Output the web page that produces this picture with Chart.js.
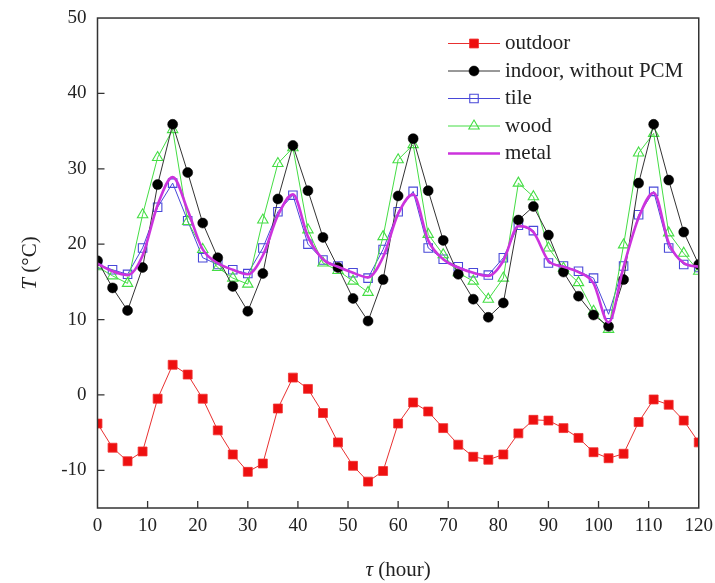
<!DOCTYPE html>
<html><head><meta charset="utf-8">
<script src="https://cdn.jsdelivr.net/npm/chart.js@4.4.0/dist/chart.umd.min.js"></script>
<style>html,body{margin:0;padding:0;background:#fff;}#wrap{width:715px;height:583px;}</style>
</head><body><div id="wrap"><canvas id="c" width="715" height="583"></canvas></div>
<script>
const hours = [0,3,6,9,12,15,18,21,24,27,30,33,36,39,42,45,48,51,54,57,60,63,66,69,72,75,78,81,84,87,90,93,96,99,102,105,108,111,114,117,120];
const outdoor = [-3.8,-7.0,-8.8,-7.5,-0.5,4.0,2.7,-0.5,-4.7,-7.9,-10.2,-9.1,-1.8,2.3,0.8,-2.4,-6.3,-9.4,-11.5,-10.1,-3.8,-1.0,-2.2,-4.4,-6.6,-8.2,-8.6,-7.9,-5.1,-3.3,-3.4,-4.4,-5.7,-7.6,-8.4,-7.8,-3.6,-0.6,-1.3,-3.4,-6.3];
const indoor = [17.8,14.2,11.2,16.9,27.9,35.9,29.5,22.8,18.2,14.4,11.1,16.1,26.0,33.1,27.1,20.9,16.9,12.8,9.8,15.3,26.4,34.0,27.1,20.5,16.0,12.7,10.3,12.2,23.2,25.0,21.2,16.3,13.1,10.6,9.1,15.3,28.1,35.9,28.5,21.6,17.3];
const tile = [17.3,16.6,16.0,19.5,24.9,28.1,23.1,18.2,17.3,16.6,16.1,19.5,24.3,26.5,20.0,17.9,17.1,16.2,15.5,19.3,24.3,27.0,19.5,18.0,17.0,16.2,15.9,18.2,22.5,21.8,17.5,17.1,16.4,15.5,10.7,17.1,23.9,27.0,19.5,17.3,16.9];
const wood = [17.0,15.8,14.8,23.9,31.5,35.2,23.0,19.3,16.9,15.5,14.7,23.2,30.7,32.8,21.9,17.5,16.5,15.1,13.6,21.0,31.2,33.2,21.3,18.6,16.2,15.1,12.7,15.5,28.1,26.3,19.5,16.8,14.9,11.1,8.7,19.9,32.1,34.7,21.5,18.8,16.4];
const metal = [17.4,16.4,15.9,18.5,25.2,28.9,24.5,19.3,17.5,16.6,16.0,18.5,23.8,26.6,21.0,18.0,17.0,16.2,15.6,18.3,24.0,26.6,20.5,18.0,16.9,16.2,15.8,17.8,22.4,21.6,17.8,17.0,16.3,14.8,9.6,17.0,23.5,26.8,20.2,17.5,17.0];
const xTicks = [0,10,20,30,40,50,60,70,80,90,100,110,120];
const yTicks = [-10,0,10,20,30,40,50];
const seriesNames = ['outdoor','indoor, without PCM','tile','wood','metal'];

const FONT = "'Liberation Serif','Times New Roman',serif";
const pts = arr => hours.map((h,i)=>({x:h,y:arr[i]}));

const datasets = [
  {label:seriesNames[0], data:pts(outdoor), borderColor:'#e83030', backgroundColor:'#ee1010', borderWidth:1,
   pointStyle:'rect', pointRadius:6.3, pointBorderColor:'#f03030', pointBorderWidth:0.8, order:4},
  {label:seriesNames[1], data:pts(indoor), borderColor:'#333', backgroundColor:'#000', borderWidth:1,
   pointStyle:'circle', pointRadius:5, pointBorderColor:'#000', pointBorderWidth:0.5, order:1},
  {label:seriesNames[2], data:pts(tile), borderColor:'#4848d8', backgroundColor:'rgba(255,255,255,0)', borderWidth:1,
   pointStyle:'rect', pointRadius:6, pointBorderColor:'#4848d8', pointBorderWidth:1.1, order:3},
  {label:seriesNames[3], data:pts(wood), borderColor:'#44dd44', backgroundColor:'rgba(255,255,255,0)', borderWidth:1,
   pointStyle:'triangle', pointRadius:6, pointBorderColor:'#44dd44', pointBorderWidth:1.1, order:2},
  {label:seriesNames[4], data:pts(metal), borderColor:'#cc33dd', backgroundColor:'#cc33dd', borderWidth:2.6,
   pointRadius:0, cubicInterpolationMode:'monotone', order:0}
];
datasets.forEach(d=>{d.clip=0; d.fill=false; if(d.tension===undefined) d.tension=0; d.pointBackgroundColor=d.backgroundColor;});

const framePlugin = {
  id:'frame',
  afterDraw(chart){
    const {ctx, chartArea:a, scales} = chart;
    ctx.save();
    ctx.strokeStyle='#333'; ctx.lineWidth=1.5;
    ctx.strokeRect(a.left, a.top, a.right-a.left, a.bottom-a.top);
    ctx.lineWidth=1.3;
    ctx.beginPath();
    xTicks.forEach(v=>{ if(v===0||v===120) return; const p=scales.x.getPixelForValue(v); ctx.moveTo(p,a.bottom); ctx.lineTo(p,a.bottom-7);});
    yTicks.forEach(v=>{ if(v===50) return; const p=scales.y.getPixelForValue(v); ctx.moveTo(a.left,p); ctx.lineTo(a.left+7,p);});
    ctx.stroke();
    ctx.fillStyle='#222'; ctx.textBaseline='middle';
    const cx=(a.left+a.right)/2;
    ctx.font='italic 21px '+FONT; const w1=ctx.measureText('τ').width;
    ctx.font='21px '+FONT; const w2=ctx.measureText(' (hour)').width;
    let sx=cx-(w1+w2)/2;
    ctx.font='italic 21px '+FONT; ctx.textAlign='left'; ctx.fillText('τ',sx,570);
    ctx.font='21px '+FONT; ctx.fillText(' (hour)',sx+w1,570);
    ctx.save();
    ctx.translate(30,(a.top+a.bottom)/2); ctx.rotate(-Math.PI/2);
    ctx.font='italic 21px '+FONT; const t1=ctx.measureText('T').width;
    ctx.font='21px '+FONT; const t2=ctx.measureText(' (°C)').width;
    sx=-(t1+t2)/2;
    ctx.font='italic 21px '+FONT; ctx.fillText('T',sx,0);
    ctx.font='21px '+FONT; ctx.fillText(' (°C)',sx+t1,0);
    ctx.restore();
    const dsList = chart.data.datasets;
    dsList.forEach((d,i)=>{
      const y=43.5+i*27.5;
      ctx.strokeStyle=d.borderColor; ctx.lineWidth=d.borderWidth;
      ctx.beginPath(); ctx.moveTo(448,y); ctx.lineTo(500,y); ctx.stroke();
      if(d.pointRadius>0){
        ctx.fillStyle=d.backgroundColor; ctx.strokeStyle=d.pointBorderColor; ctx.lineWidth=d.pointBorderWidth;
        Chart.helpers.drawPoint(ctx,{pointStyle:d.pointStyle,radius:d.pointRadius,rotation:0,borderWidth:d.pointBorderWidth},474,y);
      }
      ctx.fillStyle='#222'; ctx.font='21px '+FONT; ctx.textAlign='left'; ctx.textBaseline='middle';
      ctx.fillText(d.label,505,y);
    });
    ctx.restore();
  }
};

new Chart(document.getElementById('c'),{
  type:'line',
  data:{datasets},
  options:{
    responsive:false, animation:false, devicePixelRatio:1,
    layout:{padding:{top:0,right:0,left:0,bottom:0}},
    plugins:{legend:{display:false}, tooltip:{enabled:false}},
    scales:{
      x:{type:'linear', min:0, max:120,
         afterBuildTicks:s=>{s.ticks=xTicks.map(v=>({value:v}));},
         afterFit:s=>{s.height=75;},
         grid:{display:false, drawTicks:false}, border:{display:false},
         ticks:{color:'#222', font:{family:FONT,size:19,lineHeight:1.7}, padding:2, maxRotation:0, autoSkip:false}},
      y:{type:'linear', min:-15, max:50,
         afterBuildTicks:s=>{s.ticks=yTicks.map(v=>({value:v}));},
         afterFit:s=>{s.width=97.5;},
         grid:{display:false, drawTicks:false}, border:{display:false},
         ticks:{color:'#222', font:{family:FONT,size:19,lineHeight:0.74}, padding:11, autoSkip:false}}
    }
  },
  plugins:[framePlugin]
});
</script></body></html>
